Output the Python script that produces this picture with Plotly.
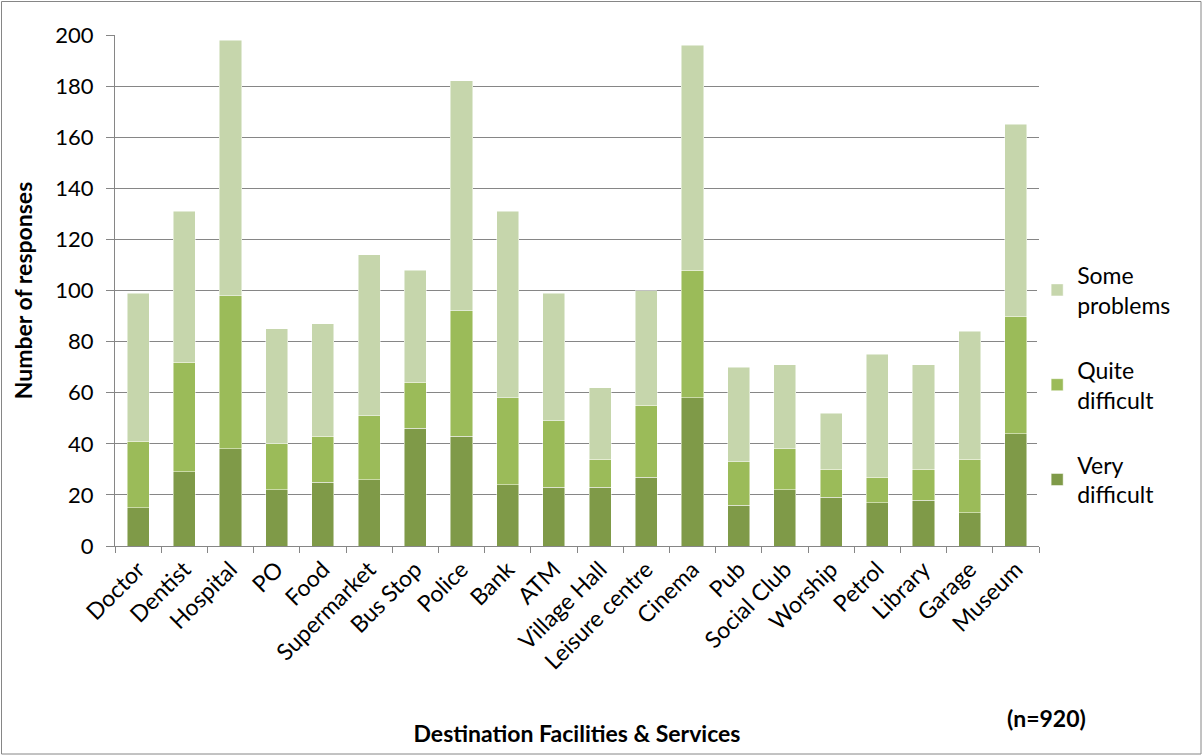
import plotly.graph_objects as go

categories = ["Doctor", "Dentist", "Hospital", "PO", "Food", "Supermarket", "Bus Stop",
              "Police", "Bank", "ATM", "Village Hall", "Leisure centre", "Cinema", "Pub",
              "Social Club", "Worship", "Petrol", "Library", "Garage", "Museum"]

# cumulative tops
very_top = [15, 29, 38, 22, 25, 26, 46, 43, 24, 23, 23, 27, 58, 16, 22, 19, 17, 18, 13, 44]
quite_top = [41, 72, 98, 40, 43, 51, 64, 92, 58, 49, 34, 55, 108, 33, 38, 30, 27, 30, 34, 90]
total_top = [99, 131, 198, 85, 87, 114, 108, 182, 131, 99, 62, 100, 196, 70, 71, 52, 75, 71, 84, 165]

very_difficult = very_top
quite_difficult = [q - v for q, v in zip(quite_top, very_top)]
some_problems = [t - q for t, q in zip(total_top, quite_top)]

FONT = "Lato"
FS = 23
line = dict(color="rgba(255,255,255,0.6)", width=0.8)

fig = go.Figure()
fig.add_trace(go.Bar(x=categories, y=very_difficult, name="Very<br>difficult",
                     marker=dict(color="#7F9A48", line=line), legendgroup="a", legendrank=3))
fig.add_trace(go.Bar(x=categories, y=quite_difficult, name="Quite<br>difficult",
                     marker=dict(color="#9BBB59", line=line), legendgroup="b", legendrank=2))
fig.add_trace(go.Bar(x=categories, y=some_problems, name="Some<br>problems",
                     marker=dict(color="#C6D6AC", line=line), legendgroup="c", legendrank=1))

W, H = 1203, 756
L, R, T, B = 115, 164, 35, 210
pw, ph = W - L - R, H - T - B

fig.update_layout(
    width=W, height=H,
    barmode="stack", bargap=0.52,
    margin=dict(l=L, r=R, t=T, b=B),
    paper_bgcolor="white", plot_bgcolor="white",
    font=dict(family=FONT, size=FS, color="black"),
    legend=dict(traceorder="grouped", tracegroupgap=32, x=0.998, xanchor="left",
                y=(546 - 385) / ph, yanchor="middle", font=dict(family=FONT, size=FS),
                itemwidth=30),
    xaxis=dict(type="category", tickangle=-45, ticks="outside", tickson="boundaries",
               ticklen=6, tickcolor="#868686", showline=True, linecolor="#868686",
               linewidth=1, tickfont=dict(family=FONT, size=FS),
               title=dict(text="<b>Destination Facilities & Services</b>",
                          font=dict(family=FONT, size=FS), standoff=52)),
    yaxis=dict(range=[0, 200], dtick=20, showgrid=True, gridcolor="#868686",
               gridwidth=1, ticks="outside", ticklen=8, tickcolor="#868686",
               showline=True, linecolor="#868686", linewidth=1, zeroline=False,
               ticklabelstandoff=8,
               tickfont=dict(family=FONT, size=FS - 1),
               title=dict(text="<b>Number of responses</b>",
                          font=dict(family=FONT, size=FS), standoff=16)),
    annotations=[dict(text="<b>(n=920)</b>", xref="paper", yref="paper",
                      x=(1088 - L) / pw, y=(546 - 718) / ph, xanchor="right",
                      yanchor="middle", showarrow=False,
                      font=dict(family=FONT, size=FS))],
    shapes=[dict(type="rect", xref="paper", yref="paper",
                 x0=(1.5 - L) / pw, x1=(1201 - L) / pw,
                 y0=(546 - 754) / ph, y1=(546 - 1.5) / ph,
                 line=dict(color="#868686", width=1), fillcolor="rgba(0,0,0,0)")],
)

fig.write_html("out.html")
